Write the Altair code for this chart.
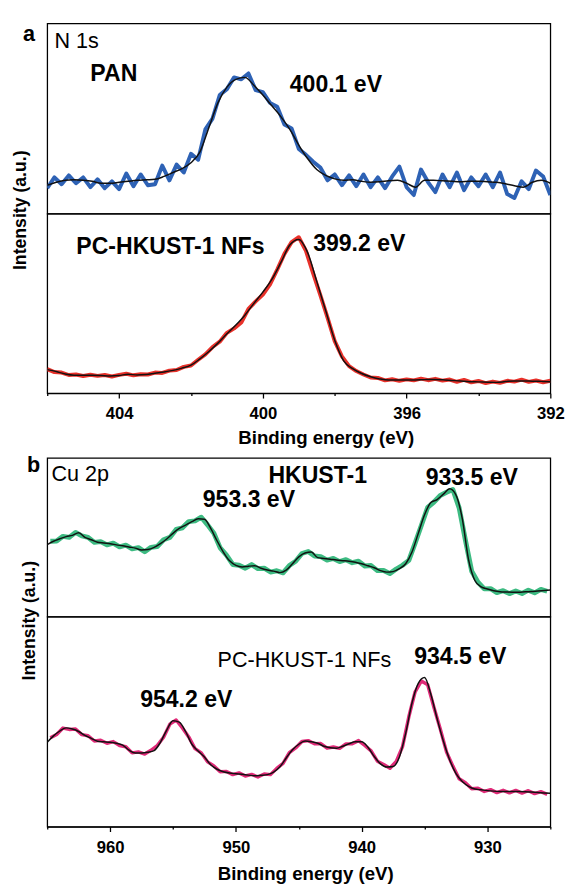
import altair as alt
import pandas as pd

FONT = "Liberation Sans"

# ---------------- Panel a : N 1s ----------------
E_A_FIT = [406.0, 405.75, 405.5, 405.25, 405.0, 404.75, 404.5, 404.25, 404.0, 403.75,
           403.5, 403.25, 403.0, 402.75, 402.5, 402.25, 402.0, 401.75, 401.5, 401.25,
           401.0, 400.75, 400.5, 400.25, 400.0, 399.75, 399.5, 399.25, 399.0, 398.75,
           398.5, 398.25, 398.0, 397.75, 397.5, 397.25, 397.0, 396.75, 396.5, 396.25,
           396.0, 395.75, 395.5, 395.25, 395.0, 394.75, 394.5, 394.25, 394.0, 393.75,
           393.5, 393.25, 393.0, 392.75, 392.5, 392.25, 392.0]
PAN_FIT = [29, 32, 34, 34.5, 34, 33, 31, 31, 32, 33,
           34, 34.5, 35, 38, 42, 46, 52, 63, 88, 113,
           129, 137, 139, 131, 121, 110, 99, 86, 70, 56,
           45, 39, 35.5, 34, 34.5, 33, 32, 32.5, 33.5, 34,
           31, 27, 34, 34, 33.5, 33, 32.5, 33, 33, 32.5,
           32, 30.5, 28.5, 27, 32, 34, 31]
NFA_FIT = [24, 22, 19.5, 18.3, 18.3, 18.3, 18, 17.5, 18, 19.3,
           18.5, 19, 20.3, 21.5, 23.2, 25.5, 28.5, 35, 42.5, 51,
           60.5, 69.5, 79.5, 91.5, 103, 116, 133, 151, 156.7, 143,
           114, 84, 54, 33, 25, 20, 16.7, 14.5, 13.3, 13.3,
           13.3, 13.5, 13.8, 14, 13.6, 13, 12.4, 11.7, 11.5, 11.2,
           11, 11.8, 12.5, 12.5, 12.2, 12, 11.7]

E_A_RAW = [406.0, 405.8, 405.6, 405.4, 405.2, 405.0, 404.8, 404.6, 404.4, 404.2,
           404.0, 403.8, 403.6, 403.4, 403.2, 403.0, 402.8, 402.6, 402.4, 402.2,
           402.0, 401.8, 401.6, 401.4, 401.2, 401.0, 400.8, 400.6, 400.4, 400.2,
           400.0, 399.8, 399.6, 399.4, 399.2, 399.0, 398.8, 398.6, 398.4, 398.2,
           398.0, 397.8, 397.6, 397.4, 397.2, 397.0, 396.8, 396.6, 396.4, 396.2,
           396.0, 395.8, 395.6, 395.4, 395.2, 395.0, 394.8, 394.6, 394.4, 394.2,
           394.0, 393.8, 393.6, 393.4, 393.2, 393.0, 392.8, 392.6, 392.4, 392.2,
           392.0]
PAN_RAW = [26, 37, 30, 39, 31, 37, 27, 35, 26, 33,
           25, 41, 28, 40, 29, 30, 49, 34, 50, 42,
           61, 55, 86, 97, 121, 127, 139, 137, 143, 126,
           124, 113, 109, 91, 87, 66, 60, 53, 47, 34,
           40, 29, 39, 28, 40, 27, 37, 26, 38, 48,
           27, 19, 45, 32, 22, 40, 27, 42, 24, 37,
           28, 40, 27, 42, 20, 16, 33, 25, 44, 38,
           19]
NFA_RAW = [24.5, 21.5, 21, 18.5, 19, 17.5, 18.8, 17.6, 18.5, 17,
           18.6, 19.8, 18.2, 19.3, 19, 21, 20.6, 23, 23.6, 26.8,
           28.2, 34, 39.5, 47, 52.5, 61.5, 66, 72, 86, 93.5,
           100.5, 111, 126, 142, 154, 159, 145, 122, 100, 77,
           53, 37.5, 27.5, 22.5, 19, 16, 15.5, 13, 14.2, 12.6,
           14, 13, 14.8, 13.2, 14.6, 12.8, 13.9, 11.6, 13.5, 11,
           12.4, 10.3, 11.8, 10.5, 12.6, 11.8, 13.8, 11.5, 12.9, 11.1,
           12.6]

# ---------------- Panel b : Cu 2p ----------------
E_B_FIT = [965.0, 964.5, 964.0, 963.5, 963.0, 962.5, 962.0, 961.5, 961.0, 960.5,
           960.0, 959.5, 959.0, 958.5, 958.0, 957.5, 957.0, 956.5, 956.0, 955.5,
           955.0, 954.5, 954.0, 953.5, 953.0, 952.5, 952.0, 951.5, 951.0, 950.5,
           950.0, 949.5, 949.0, 948.5, 948.0, 947.5, 947.0, 946.5, 946.0, 945.5,
           945.0, 944.5, 944.0, 943.5, 943.0, 942.5, 942.0, 941.5, 941.0, 940.5,
           940.0, 939.5, 939.0, 938.5, 938.0, 937.5, 937.0, 936.5, 936.0, 935.5,
           935.0, 934.5, 934.0, 933.5, 933.0, 932.5, 932.0, 931.5, 931.0, 930.5,
           930.0, 929.5, 929.0, 928.5, 928.0, 927.5, 927.0, 926.5, 926.0, 925.5,
           925.0]
HK_FIT = [73.5, 77, 79.5, 81.7, 83, 85.7, 81, 78.5, 76, 75.2,
          74.5, 73.3, 72.3, 71.1, 70, 68, 68.5, 70.7, 74.5, 79.3,
          85, 90, 93.5, 97, 100, 99.5, 90, 77.5, 66, 57,
          52.3, 50.7, 51.5, 52, 49.4, 47.6, 46.5, 45, 47.5, 54,
          61, 65, 66, 60.3, 59.5, 58.7, 57.8, 57.2, 56.6, 55.6,
          54, 52, 50, 47, 45.5, 46, 49, 54, 66, 85,
          104, 116.5, 119.5, 125, 130.5, 124, 100, 58, 37, 30.5,
          28.3, 26.5, 25.5, 25.2, 25, 25, 25.5, 25.7, 26.3, 26.8,
          27.3]
NFB_FIT = [86, 92.5, 97.5, 100.7, 99.5, 97, 93, 90, 87, 86.5,
           86, 85, 83, 78, 75, 75, 75.8, 77.5, 86, 98.5,
           108, 106.5, 97, 84, 77, 71, 63, 58.5, 56, 54.7,
           54, 53.3, 52.5, 51.8, 52.3, 53, 55.5, 61, 70, 78.5,
           84, 87.3, 86.5, 85, 82, 80.5, 80, 82, 84.5, 86.5,
           86.5, 81, 71.5, 64, 60.7, 61.2, 71, 95, 126, 146,
           152, 135, 110, 87, 68, 54, 46, 41, 38.3, 37.5,
           36.7, 36.2, 35.9, 35.7, 35.7, 35.7, 35.6, 35.2, 34.7, 34.3,
           34]

E_B_RAW = [964.75, 964.25, 963.75, 963.25, 962.75, 962.25, 961.75, 961.25, 960.75, 960.25,
           959.75, 959.25, 958.75, 958.25, 957.75, 957.25, 956.75, 956.25, 955.75, 955.25,
           954.75, 954.25, 953.75, 953.25, 952.75, 952.25, 951.75, 951.25, 950.75, 950.25,
           949.75, 949.25, 948.75, 948.25, 947.75, 947.25, 946.75, 946.25, 945.75, 945.25,
           944.75, 944.25, 943.75, 943.25, 942.75, 942.25, 941.75, 941.25, 940.75, 940.25,
           939.75, 939.25, 938.75, 938.25, 937.75, 937.25, 936.75, 936.25, 935.75, 935.25,
           934.75, 934.25, 933.75, 933.25, 932.75, 932.25, 931.75, 931.25, 930.75, 930.25,
           929.75, 929.25, 928.75, 928.25, 927.75, 927.25, 926.75, 926.25, 925.75, 925.25]
HK_RAW = [77, 77.3, 82, 81, 86, 82.5, 81, 75.8, 76.6, 73.3,
          75.1, 71.3, 73, 69.3, 70.5, 66.3, 70.8, 71.6, 78.5, 80.9,
          89, 90.7, 97, 97.7, 101.5, 93.7, 85.2, 70.2, 62.8, 53.3,
          52.5, 49.5, 53.2, 49.1, 49.5, 45.6, 46.9, 44.8, 52.2, 56.5,
          64.5, 66.5, 61.9, 61.3, 57.8, 59.4, 56.2, 58.2, 55.1, 56.6,
          51.7, 52.2, 47.1, 47.2, 44, 48.7, 52.5, 57.5, 75, 93.3,
          111.6, 117, 123.7, 126.9, 129.7, 111, 78, 46.3, 35.2, 28.4,
          28.7, 24.6, 26.6, 23.6, 26.2, 23.7, 27.1, 24.4, 27.9, 26]
NFB_RAW = [90.5, 94, 100.5, 99.1, 99.5, 93.8, 92.7, 87.3, 88, 85,
           86.7, 82.7, 81.5, 75.2, 76.2, 74, 77.8, 82.7, 91.2, 104.5,
           108.7, 100.5, 91.5, 79.5, 75.2, 66, 61.9, 56, 56.3, 53,
           54.8, 51.6, 53.3, 50.6, 53.6, 53, 59.4, 64.5, 75.4, 80.2,
           86.8, 87.7, 84.5, 84.7, 80, 81.2, 79.8, 84.4, 84.5, 87.7,
           82.7, 77.2, 66.7, 63.3, 59.5, 66.6, 81.5, 112, 137.5, 148.5,
           144.7, 121.5, 99.5, 76, 61.7, 48.8, 44.7, 38.6, 39.1, 35.9,
           37.7, 34.7, 37, 34.4, 36.9, 34.2, 36.6, 33.7, 35.7, 32.9]

A_TICKS = [406, 404, 402, 400, 398, 396, 394, 392]
B_TICKS = [965, 960, 955, 950, 945, 940, 935, 930, 925]

# annotations: text, energy, intensity, bold?
A_TOP_TXT = ["N 1s", "PAN", "400.1 eV"]
A_TOP_E = [405.80, 404.80, 399.25]
A_TOP_I = [176, 142.7, 131]
A_TOP_B = [False, True, True]
A_BOT_TXT = ["PC-HKUST-1 NFs", "399.2 eV"]
A_BOT_E = [405.19, 398.60]
A_BOT_I = [149.3, 151.7]
A_BOT_B = [True, True]
B_TOP_TXT = ["Cu 2p", "HKUST-1", "933.5 eV", "953.3 eV"]
B_TOP_E = [964.66, 947.41, 934.91, 952.63]
B_TOP_I = [145.3, 143.7, 141.7, 118.7]
B_TOP_B = [False, True, True, True]
B_BOT_TXT = ["PC-HKUST-1 NFs", "934.5 eV", "954.2 eV"]
B_BOT_E = [951.46, 935.82, 957.61]
B_BOT_I = [170, 172.7, 129.3]
B_BOT_B = [False, True, True]

W = 513
H_A_TOP, H_A_BOT, H_B_TOP, H_B_BOT = 194, 183, 162, 214


def subplot(e_fit, fit, e_raw, raw, color, raw_w, dom, H, txt, te, ti, tb,
            ticks=None, major=None, title_x=None, title_y=46, extras=()):
    fit_df = pd.DataFrame({"E": e_fit, "I": fit})
    raw_df = pd.DataFrame({"E": e_raw, "I": raw})
    lab_df = pd.DataFrame({"E": te, "I": ti, "t": txt, "b": tb})
    if ticks is not None:
        axis = alt.Axis(
            values=ticks, title="Binding energy (eV)",
            labelExpr=f"datum.value % {major} === 0 ? datum.label : ''",
            tickSize={"condition": {"test": f"datum.value % {major} === 0", "value": 5}, "value": 2.5},
            tickColor="black", tickWidth=1.3, domainColor="black", domainWidth=1.3,
            labelFont=FONT, labelFontSize=17, labelFontWeight="bold", labelColor="black",
            labelPadding=8, labelFlush=False, labelOverlap=False, grid=False,
            titleFont=FONT, titleFontSize=19, titleFontWeight="bold", titleColor="black",
            titleX=title_x, titleY=title_y, titleAlign="center", titleBaseline="middle",
        )
    else:
        axis = None
    x = alt.X("E:Q", scale=alt.Scale(domain=dom, nice=False, zero=False), axis=axis)
    y = alt.Y("I:Q", scale=alt.Scale(domain=[0, H], nice=False, zero=False), axis=None)
    raw_l = alt.Chart(raw_df).mark_line(color=color, strokeWidth=raw_w, clip=True,
                                        strokeJoin="round").encode(x=x, y=y)
    fit_l = alt.Chart(fit_df).mark_line(color="#111111", strokeWidth=1.5, clip=True,
                                        interpolate="monotone").encode(x=x, y=y)
    bold_t = alt.Chart(lab_df).transform_filter("datum.b").mark_text(
        align="left", baseline="middle", font=FONT, fontSize=23.5, fontWeight="bold",
        color="black").encode(x=x, y=y, text="t:N")
    norm_t = alt.Chart(lab_df).transform_filter("!datum.b").mark_text(
        align="left", baseline="middle", font=FONT, fontSize=22, fontWeight="normal",
        color="black").encode(x=x, y=y, text="t:N")
    return alt.layer(raw_l, fit_l, bold_t, norm_t, *extras).properties(width=W, height=H)


def free_text(s, px, py, size, angle=0, baseline="alphabetic", align="center"):
    d = pd.DataFrame({"t": [s]})
    return alt.Chart(d).mark_text(font=FONT, fontSize=size, fontWeight="bold", color="black",
                                  angle=angle, align=align, baseline=baseline).encode(
        x=alt.value(px), y=alt.value(py), text="t:N")


a_top = subplot(E_A_FIT, PAN_FIT, E_A_RAW, PAN_RAW, "#2e62b5", 4, [406, 392], H_A_TOP,
                A_TOP_TXT, A_TOP_E, A_TOP_I, A_TOP_B,
                extras=[free_text("a", -18.5, 18, 22)])
a_bot = subplot(E_A_FIT, NFA_FIT, E_A_RAW, NFA_RAW, "#e8312a", 4, [406, 392], H_A_BOT,
                A_BOT_TXT, A_BOT_E, A_BOT_I, A_BOT_B,
                ticks=A_TICKS, major=4, title_x=284, title_y=45,
                extras=[free_text("Intensity (a.u.)", -27, -3.5, 18, angle=270, baseline="middle")])
b_top = subplot(E_B_FIT, HK_FIT, E_B_RAW, HK_RAW, "#3dbb82", 5, [965, 925], H_B_TOP,
                B_TOP_TXT, B_TOP_E, B_TOP_I, B_TOP_B,
                extras=[free_text("b", -14, 14, 22)])
b_bot = subplot(E_B_FIT, NFB_FIT, E_B_RAW, NFB_RAW, "#e02a78", 3.5, [965, 925], H_B_BOT,
                B_BOT_TXT, B_BOT_E, B_BOT_I, B_BOT_B,
                ticks=B_TICKS, major=10, title_x=263, title_y=48,
                extras=[free_text("Intensity (a.u.)", -17, 4, 18, angle=270, baseline="middle")])

panel_a = alt.vconcat(a_top, a_bot, spacing=0, bounds="flush")
panel_b = alt.vconcat(b_top, b_bot, spacing=0, bounds="flush")

chart = alt.vconcat(panel_a, panel_b, spacing=5).properties(
    padding={"left": 3, "top": 6, "right": 2, "bottom": 2}
).configure(font=FONT).configure_view(stroke="black", strokeWidth=1.3)

chart.save("out.html", embed_options={"renderer": "svg", "actions": False})
